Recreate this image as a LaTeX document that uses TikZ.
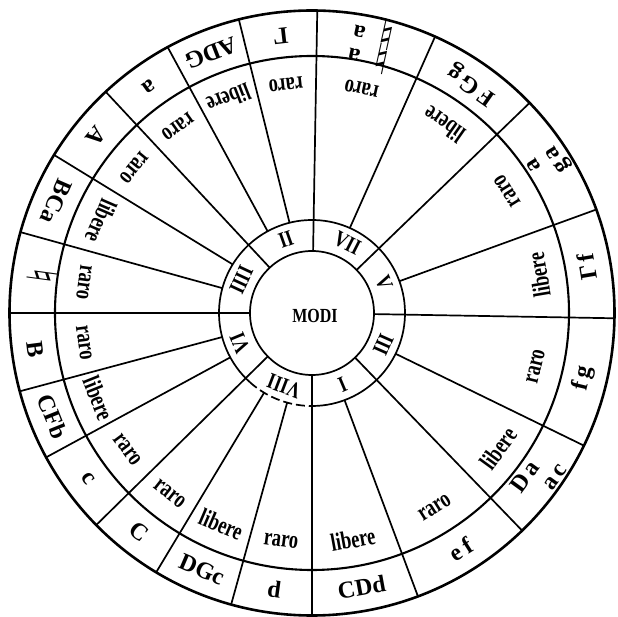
\documentclass[tikz,border=0pt]{standalone}
\usepackage{fontspec}
\setmainfont{Liberation Serif}
\newfontfamily\natfont{DejaVu Sans}
\newcommand{\natglyph}{\smash{\natfont\fontsize{42}{42}\selectfont ♮}}
\usetikzlibrary{calc}

\begin{document}
\begin{tikzpicture}[x=1pt,y=1pt,
spoke/.style={line width=1.7pt},
rim/.style={line width=2.6pt},
cell/.style={font=\bfseries\fontsize{18.5}{20}\selectfont,inner sep=0pt,yscale=1.35},
band/.style={font=\bfseries\fontsize{24}{23}\selectfont,inner sep=0pt,align=center},
modus/.style={font=\bfseries\fontsize{18}{18}\selectfont,inner sep=0pt,yscale=1.25}]
\useasboundingbox (-312,-304) rectangle (306,313);
% circles
\draw[rim] (0,0) circle (302.5);
\draw[line width=2.1pt] (0,0) circle (257);
\draw[spoke] (268:93) arc (268:588:93);
\draw[spoke,dash pattern=on 9pt off 4pt] (228:93) arc (228:268:93);
\draw[spoke] (0,0) circle (62);
% spokes: mode borders run in to the centre circle
\foreach \a in {89,44,-1,-46,-90,-135.5,180,133}
  \draw[spoke] (\a:62) -- (\a:302.5);
\foreach \a in {118.5,104,66,20,-26,-69.5,-105.5,-121,-151.5,-165,164.5,148.5}
  \draw[spoke] (\a:93) -- (\a:302.5);
% centre and modes
\node[font=\bfseries\fontsize{16}{16}\selectfont,yscale=1.25] (modi) at (3,-3) {MODI};
\foreach \a/\t [count=\i] in {63/VII,22.5/V,-24/III,-67/I,-111/VIII,202.5/VI,155/IIII,109.5/II}
  \node[rotate=\a-90,modus] (modus\i) at (\a:78) {\t};
% raro / libere
\foreach \a/\t [count=\i] in {125.75/raro,111.25/libere,96.5/raro,77.5/raro,55/libere,
  32/raro,9.5/libere,-13.5/raro,-36/libere,-57.75/raro,-79.75/libere,-97.75/raro,
  -113.25/libere,-128.25/raro,-143.5/raro,-158.25/libere,-172.5/raro,172.25/raro,
  156.5/libere,140.75/raro}
  \node[rotate=\a+90,cell] (cell\i) at (\a:230) {\t};
% letters on the rim
\foreach \a/\t [count=\i] in {125.75/a,111.25/ADG,96.5/Γ,55/F\,G\,g,9.5/Γ\,f,
  -13.5/f\,g,-57.75/e\,f,-79.75/CDd,-97.75/d,-113.25/DGc,-128.25/C,-143.5/c,
  -158.25/CFb,-172.5/B,156.5/BCa,140.75/A}
  \node[rotate=\a+90,band] (band\i) at (\a:279) {\t};
\node[rotate=262.25,band] (bandnat) at (172.25:279) {\raisebox{-17pt}{\natglyph}};
\node[rotate=167.5,band] (bandtop) at (77.5:279)
  {\raisebox{-12pt}{\natglyph}\hspace{14pt}a\\\raisebox{-12pt}{\natglyph}\hspace{14pt}a};
\node[rotate=122,band,align=right] (bandga) at (32:280) {a\\g\,a};
\node[rotate=54,band,align=left] (bandda) at (-36:280) {D\,a\\\hphantom{D\,}a\,c};
\end{tikzpicture}
\end{document}
